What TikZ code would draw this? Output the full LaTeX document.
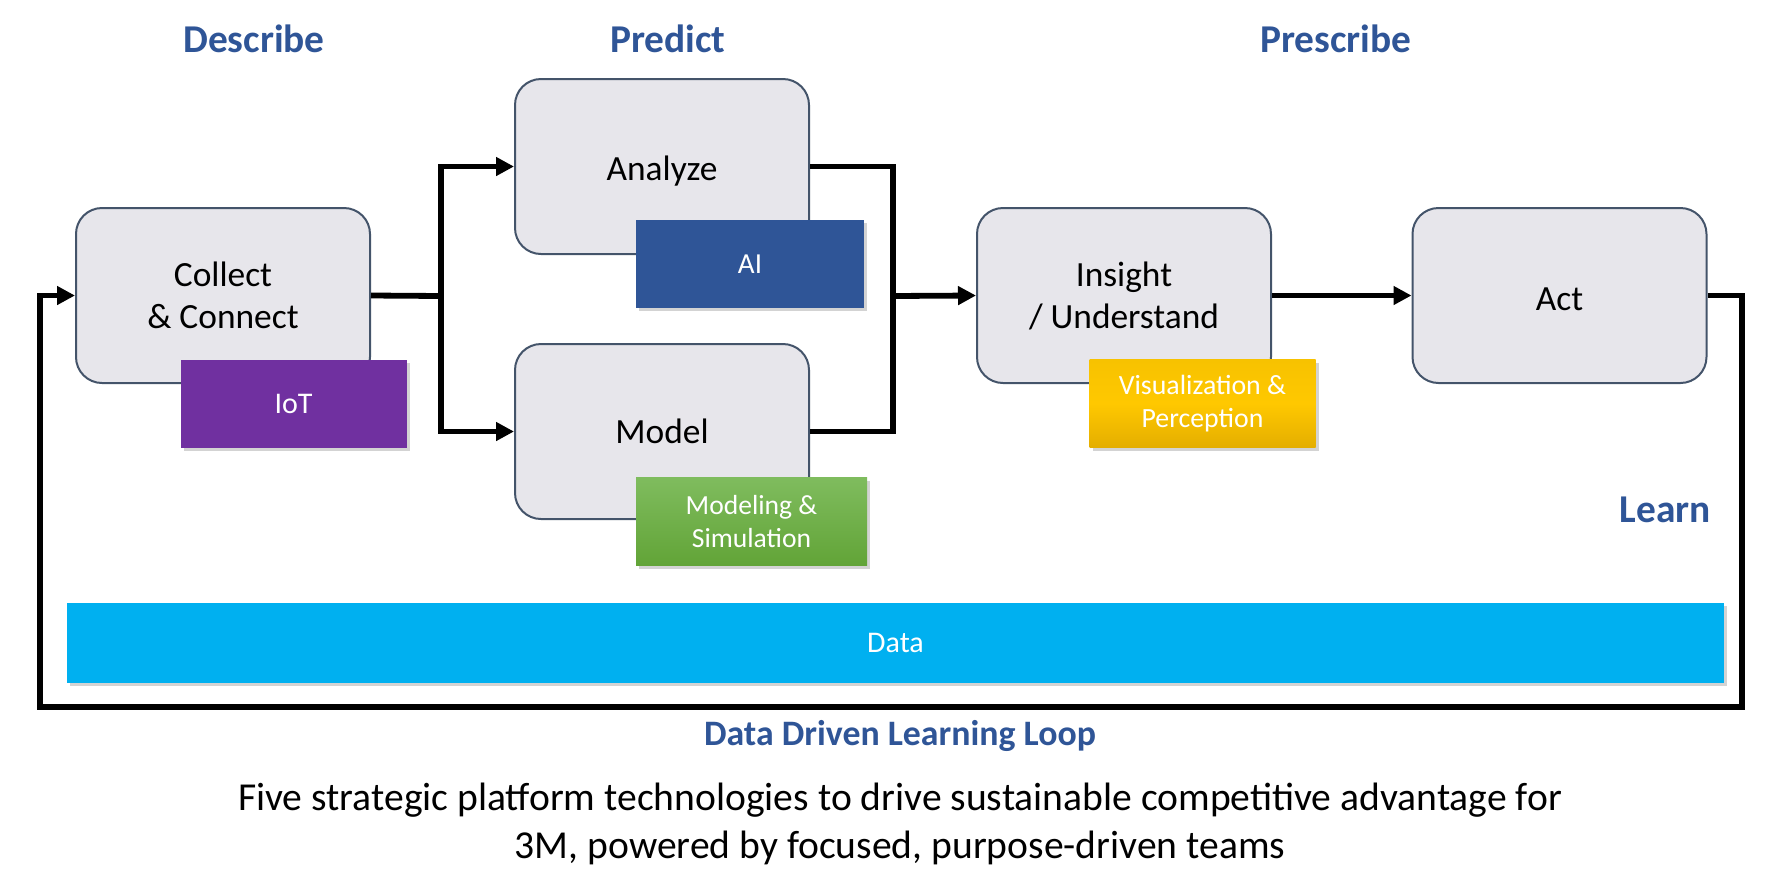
\documentclass[tikz,border=0pt]{standalone}
\usepackage{fontspec}
\setmainfont{Carlito}
\usetikzlibrary{arrows.meta,shadows}

\definecolor{boxfill}{HTML}{E7E6EB}
\definecolor{boxline}{HTML}{44546A}
\definecolor{headblue}{HTML}{2F5597}
\definecolor{iotpurple}{HTML}{7030A0}
\definecolor{aiblue}{HTML}{2F5597}
\definecolor{simtop}{HTML}{7FBC5E}
\definecolor{simbot}{HTML}{62A437}
\definecolor{vistop}{HTML}{F7C200}
\definecolor{vismid}{HTML}{FFC800}
\definecolor{visbot}{HTML}{E4AE00}
\definecolor{datablue}{HTML}{00B0F0}

\tikzset{
  stage/.style={draw=boxline, line width=1pt, fill=boxfill, rounded corners=13pt,
    minimum width=147pt, minimum height=87.5pt, inner sep=0pt, align=center,
    font=\fontsize{17.7}{21}\selectfont},
  tech/.style={inner sep=0pt, align=center, text=white,
    drop shadow={opacity=.35, shadow xshift=1.5pt, shadow yshift=-1.5pt},
    minimum width=113pt, minimum height=44pt},
  phase/.style={text=headblue, font=\fontsize{19.7}{23}\selectfont\bfseries},
  flow/.style={line width=2.9pt, -{Triangle[length=9pt,width=9pt]}},
  wire/.style={line width=2.9pt}
}

\begin{document}
\begin{tikzpicture}[x=0.5pt,y=-0.5pt]
\useasboundingbox (0,0) rectangle (1784,885);

\node[phase] (desc) at (254,39) {Describe};
\node[phase] (pred) at (668,39) {Predict};
\node[phase] (pres) at (1336,39) {Prescribe};

\node[stage] (collect) at (223,295.5) {Collect\\\& Connect};
\node[stage] (analyze) at (662,166.5) {\raisebox{-7pt}[0pt][0pt]{Analyze}};
\node[stage] (model) at (662,431.5) {Model};
\node[stage] (insight) at (1124,295.5) {Insight\\/ Understand};
\node[stage] (act) at (1559.5,295.5) {\raisebox{-7.4pt}[0pt][0pt]{Act}};

\node[tech, fill=iotpurple, font=\fontsize{15}{18}\selectfont] (iot) at (293.5,403.5) {IoT};
\node[tech, fill=aiblue, font=\fontsize{14.5}{18}\selectfont, minimum width=114pt] (ai) at (750,264) {AI};
\node[tech, top color=simtop, bottom color=simbot, font=\fontsize{13.8}{16.5}\selectfont,
  minimum width=115.5pt] (modsim) at (751.5,521.5) {Modeling \&\\Simulation};
\node[tech, top color=vistop, bottom color=visbot, middle color=vismid,
  font=\fontsize{13.9}{16.5}\selectfont] (vis) at (1202.5,403.5) {Visualization \&\\Perception};

\node[phase, anchor=east] (learn) at (1718,510) {Learn};

\node[tech, fill=datablue, minimum width=828.5pt, minimum height=40pt,
  font=\fontsize{15}{18}\selectfont] (data) at (895.5,643) {Data};

% connectors
\coordinate (split) at (441,296);
\coordinate (merge) at (893,296);
\draw[wire] (collect.east) -- (split);
\draw[flow] (split) |- (analyze.west);
\draw[flow] (split) |- (model.west);
\draw[wire] (analyze.east) -| (merge);
\draw[wire] (model.east) -| (merge);
\draw[flow] (merge) -- (insight.west);
\draw[flow] (insight.east) -- (act.west);

\coordinate (loopR) at (1742,707);
\coordinate (loopL) at (40,707);
\draw[flow] (act.east) -| (loopR) -- (loopL) |- (collect.west);

\node[phase, font=\fontsize{17.9}{21}\selectfont\bfseries] (loop) at (900,736) {Data Driven Learning Loop};
\node[align=center, font=\fontsize{19.8}{24}\selectfont] (caption) at (900,824)
  {Five strategic platform technologies to drive sustainable competitive advantage for\\
   3M, powered by focused, purpose-driven teams};
\end{tikzpicture}
\end{document}
